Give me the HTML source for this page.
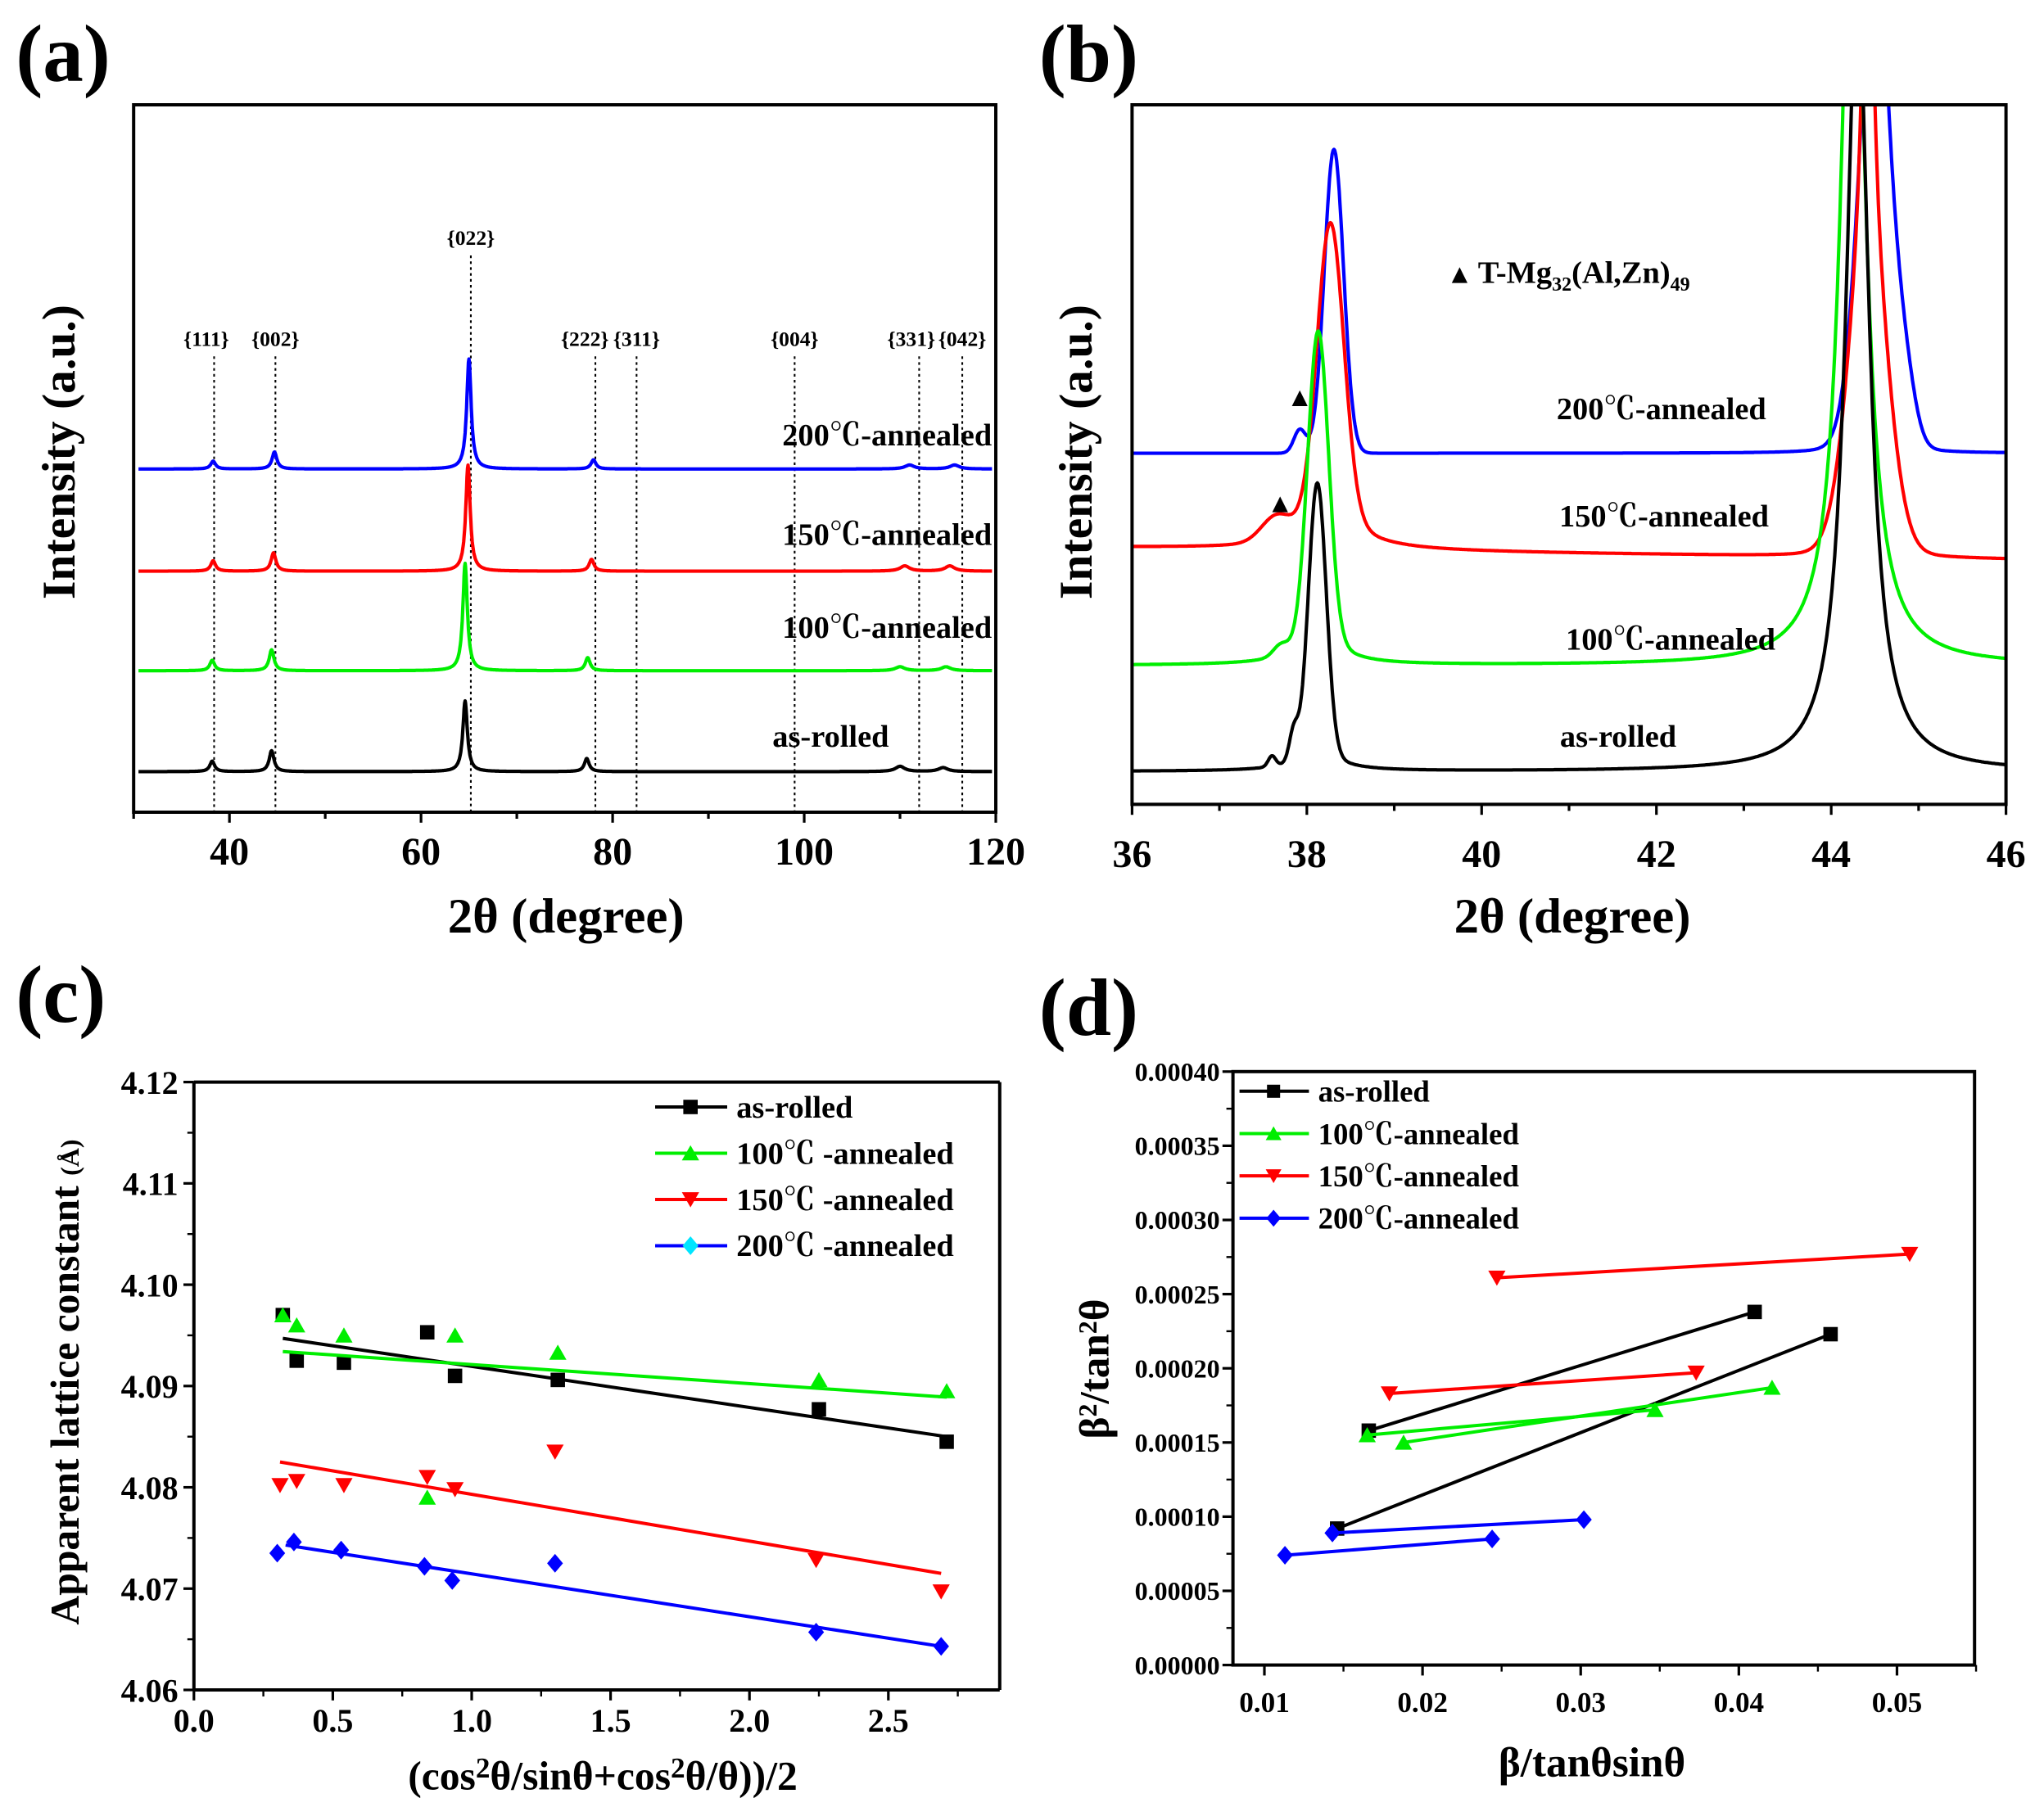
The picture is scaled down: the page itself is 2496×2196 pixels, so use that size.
<!DOCTYPE html>
<html><head><meta charset="utf-8">
<style>
html,body{margin:0;padding:0;background:#fff;}
svg{display:block;}
text{font-family:"Liberation Serif","Noto Serif CJK SC",serif;font-weight:bold;fill:#000;}
</style></head>
<body>
<svg id="fig" xmlns="http://www.w3.org/2000/svg" width="2496" height="2196" viewBox="0 0 1560 1372.5">
<rect x="0" y="0" width="1560" height="1372.5" fill="#fff"/>
<defs>
<clipPath id="clipA"><rect x="102" y="80" width="658" height="540"/></clipPath>
<clipPath id="clipB"><rect x="864" y="80" width="667" height="534"/></clipPath>
</defs>
<g id="gA"></g>
<g id="gB"></g>
<g id="gC"></g>
<g id="gD"></g>
</svg>
<script>
// ---------- Panel (a) data ----------
const aSeries = ['as-rolled','100℃-annealed','150℃-annealed','200℃-annealed'];
const aColors = ['#000','#00ee00','#ff0000','#0000ff'];
const aOffsets = [0, 77, 153, 231];
const aPeakPos = [[38.2,44.4,64.6,77.3,110,114.5],[38.2,44.4,64.6,77.4,110,114.8],[38.3,44.6,64.9,77.8,110.5,115.2],[38.3,44.7,65.0,78.0,111,115.7]];
const aPeakH = [[8,16,54,10,4,3],[8,16,82,10,3,3],[8,14,81,9,4,4],[6,13,84,7,3,3]];
const aHkl = ['{111}','{002}','{022}','{222}','{311}','{004}','{331}','{042}'];
const aHklPos = [38.4,44.8,65.2,78.2,82.5,99.0,112.0,116.5];
const aXTicks = [40,60,80,100,120];
// ---------- Panel (b) data ----------
const bSeries = ['as-rolled','100℃-annealed','150℃-annealed','200℃-annealed'];
const bBaseStart = [0, 81, 171, 243];
const bBaseEnd = [0, 81, 162, 243];
const bPeakPos = [[38.12,38.12,37.85,37.6,44.3],[38.13,38.13,37.7,44.25],[38.27,38.27,37.65,44.42,44.42],[38.31,37.92,44.5,44.5,44.85]];
const bPeakH = [[205,15,22,8,600],[230,25,8,650],[220,30,18,220,400],[232,18,300,500,35]];
const bPeakW = [[0.12,0.3,0.06,0.05,0.16],[0.14,0.3,0.1,0.16],[0.18,0.4,0.2,0.26,0.06],[0.13,0.08,0.22,0.05,0.14]];
const bPeakShape = [['G','L','G','G','L'],['G','L','G','L'],['G','L','G','G','L'],['G','G','G','L','G']];
const bXTicks = [36,38,40,42,44,46];
// ---------- Panel (c) data ----------
const cSeries = ['as-rolled','100℃ -annealed','150℃ -annealed','200℃ -annealed'];
const cX = [[0.32,0.37,0.54,0.84,0.94,1.31,2.25,2.71],[0.32,0.37,0.54,0.84,0.94,1.31,2.25,2.71],[0.31,0.37,0.54,0.84,0.94,1.30,2.24,2.69],[0.30,0.36,0.53,0.83,0.93,1.30,2.24,2.69]];
const cBlack = [4.097,4.0925,4.0923,4.0953,4.091,4.0906,4.0877,4.0845];
const cGreen = [4.097,4.096,4.095,4.079,4.095,4.0933,4.0906,4.0895];
const cRed = [4.0802,4.0806,4.0802,4.081,4.0798,4.0835,4.0728,4.0697];
const cBlue = [4.0735,4.0746,4.0738,4.0722,4.0708,4.0725,4.0657,4.0643];
const cFitX = [[0.32,2.71],[0.32,2.71],[0.31,2.69],[0.33,2.69]];
const cFitY = [[4.0947,4.0850],[4.0934,4.0889],[4.0825,4.0715],[4.0743,4.0643]];
const cYTicks = [4.06,4.07,4.08,4.09,4.10,4.11,4.12];
const cYLabels = ['4.06','4.07','4.08','4.09','4.10','4.11','4.12'];
const cXTicks = [0,0.5,1.0,1.5,2.0,2.5];
const cXLabels = ['0.0','0.5','1.0','1.5','2.0','2.5'];
// ---------- Panel (d) data ----------
const dSeries = ['as-rolled','100℃-annealed','150℃-annealed','200℃-annealed'];
const dX = [[[0.0166,0.0410],[0.0146,0.0458]],[[0.0165,0.0347],[0.0188,0.0421]],[[0.0247,0.0508],[0.0179,0.0373]],[[0.0143,0.0302],[0.0113,0.0244]]];
const dY = [[[0.000158,0.000238],[0.000092,0.000223]],[[0.000155,0.000172],[0.000150,0.000187]],[[0.000261,0.000277],[0.000183,0.000197]],[[0.000089,0.000098],[0.000074,0.000085]]];
const dYTicks = [0,0.00005,0.0001,0.00015,0.0002,0.00025,0.0003,0.00035,0.0004];
const dYLabels = ['0.00000','0.00005','0.00010','0.00015','0.00020','0.00025','0.00030','0.00035','0.00040'];
const dXTicks = [0.01,0.02,0.03,0.04,0.05];
const dXLabels = ['0.01','0.02','0.03','0.04','0.05'];

const NS='http://www.w3.org/2000/svg';
function mk(parent,tag,attrs,txt){const e=document.createElementNS(NS,tag);for(const k in attrs)e.setAttribute(k,attrs[k]);if(txt!==undefined)e.textContent=txt;parent.appendChild(e);return e;}
const colors=['#000','#00ee00','#ff0000','#0000ff'];

// ===== Panel A =====
(function(){
 const g=document.getElementById('gA');
 const L=102,R=760,T=80,B=620,base0=589;
 const xs=v=>L+(v-30)/90*(R-L);
 let t=mk(g,'text',{x:12,y:62,'font-size':62});t.textContent='(a)';
 
 aHkl.forEach((h,i)=>{
  const x=xs(aHklPos[i]);const top=(h==='{022}')?195:272;
  const l=mk(g,'line',{x1:x,x2:x,y1:top,y2:B,stroke:'#000','stroke-width':1.3,'stroke-dasharray':'2,2.5'});
  
  const tx=mk(g,'text',{x:x-(h==='{222}'?8:(h==='{111}'?6:(h==='{331}'?6:0))),y:top-8,'font-size':16,'text-anchor':'middle'},h);
  
 });
 const cg=mk(g,'g',{'clip-path':'url(#clipA)'});
 aSeries.forEach((s,si)=>{
  let d='';
  for(let v=30.5;v<=119.6;v+=0.05){
   let y=0;aPeakPos[si].forEach((p,k)=>{const w=(p>100?0.6:(p>60&&p<70?0.28:0.3));y+=aPeakH[si][k]/(1+((v-p)/w)**2);});
   d+=(d?'L':'M')+xs(v).toFixed(1)+','+(base0-aOffsets[si]-y).toFixed(1);
  }
  const p=mk(cg,'path',{d:d,fill:'none',stroke:aColors[si],'stroke-width':2.6,'stroke-linejoin':'round'});
  
 });
 const lab=[['as-rolled',634,570,'middle'],['100℃-annealed',757,487,'end'],['150℃-annealed',757,416,'end'],['200℃-annealed',757,340,'end']];
 lab.forEach(a=>{const e=mk(g,'text',{x:a[1],y:a[2],'font-size':24,'text-anchor':a[3]},a[0]);});
 const box=mk(g,'rect',{x:L,y:T,width:R-L,height:B-T,fill:'none',stroke:'#000','stroke-width':2.5});
 
 for(let v=30;v<=120;v+=10){const x=xs(v);mk(g,'line',{x1:x,x2:x,y1:B,y2:B+(v%20===0?8:5),stroke:'#000','stroke-width':2});}
 aXTicks.forEach(v=>{const e=mk(g,'text',{x:xs(v),y:660,'font-size':30,'text-anchor':'middle'},String(v));});
 let xt=mk(g,'text',{x:432,y:712,'font-size':38,'text-anchor':'middle'},'2θ (degree)');
 let yt=mk(g,'text',{x:0,y:0,'font-size':36,'text-anchor':'middle',transform:'translate(57,345) rotate(-90)'},'Intensity (a.u.)');
})();

// ===== Panel B =====
(function(){
 const g=document.getElementById('gB');
 const L=864,R=1531,T=80,B=614,base0=589;
 const xs=v=>L+(v-36)/10*(R-L);
 let t=mk(g,'text',{x:793,y:62,'font-size':62},'(b)');
 const cg=mk(g,'g',{'clip-path':'url(#clipB)'});
 const order=[3,2,1,0];
 order.forEach(si=>{
  let d='';
  for(let v=36;v<=46.001;v+=0.01){
   const f=(v-36)/10;const base=bBaseStart[si]*(1-f)+bBaseEnd[si]*f;
   let y=0;bPeakPos[si].forEach((p,k)=>{const u=(v-p)/bPeakW[si][k];
    y+= bPeakShape[si][k]==='G' ? bPeakH[si][k]*Math.exp(-0.693*u*u) : bPeakH[si][k]/(1+u*u);});
   d+=(d?'L':'M')+xs(v).toFixed(1)+','+Math.max(40,(base0-base-y)).toFixed(1);
  }
  const p=mk(cg,'path',{d:d,fill:'none',stroke:colors[si],'stroke-width':2.6,'stroke-linejoin':'round'});
  
 });
 const lab=[['as-rolled',1235,570],['100℃-annealed',1275,496],['150℃-annealed',1270,402],['200℃-annealed',1268,320]];
 lab.forEach(a=>{const e=mk(g,'text',{x:a[1],y:a[2],'font-size':24,'text-anchor':'middle'},a[0]);});
 [[992,304],[977,385]].forEach(p=>{const e=mk(g,'path',{d:`M${p[0]-6},${p[1]+6}L${p[0]+6},${p[1]+6}L${p[0]},${p[1]-6}Z`,fill:'#000'});});
 const lg=mk(g,'g',{});
 mk(lg,'path',{d:'M1108,216L1120,216L1114,204Z',fill:'#000'});
 const lt=mk(lg,'text',{x:1128,y:216,'font-size':24});
 lt.innerHTML='T-Mg<tspan font-size="15" dy="6">32</tspan><tspan dy="-6">(Al,Zn)</tspan><tspan font-size="15" dy="6">49</tspan>';
 const box=mk(g,'rect',{x:L,y:T,width:R-L,height:B-T,fill:'none',stroke:'#000','stroke-width':2.5});
 
 for(let v=36;v<=46;v+=1){const x=xs(v);mk(g,'line',{x1:x,x2:x,y1:B,y2:B+(v%2===0?8:5),stroke:'#000','stroke-width':2});}
 bXTicks.forEach(v=>{const e=mk(g,'text',{x:xs(v),y:662,'font-size':30,'text-anchor':'middle'},String(v));});
 let xt=mk(g,'text',{x:1200,y:712,'font-size':38,'text-anchor':'middle'},'2θ (degree)');
 let yt=mk(g,'text',{x:0,y:0,'font-size':36,'text-anchor':'middle',transform:'translate(833,345) rotate(-90)'},'Intensity (a.u.)');
})();

function marker(g,type,x,y,col,s){
 let e;
 if(type==='sq')e=mk(g,'rect',{x:x-s,y:y-s,width:2*s,height:2*s,fill:col});
 else if(type==='up')e=mk(g,'path',{d:`M${x-s*1.2},${y+s}L${x+s*1.2},${y+s}L${x},${y-s*1.1}Z`,fill:col});
 else if(type==='dn')e=mk(g,'path',{d:`M${x-s*1.2},${y-s}L${x+s*1.2},${y-s}L${x},${y+s*1.1}Z`,fill:col});
 else e=mk(g,'path',{d:`M${x},${y-s*1.3}L${x+s*1.1},${y}L${x},${y+s*1.3}L${x-s*1.1},${y}Z`,fill:col});
 
 
 return e;
}
const mtypes=['sq','up','dn','dia'];

// ===== Panel C =====
(function(){
 const g=document.getElementById('gC');
 const L=148,R=763,T=826,B=1290;
 const xs=v=>L+v/0.5*106;
 const ys=v=>B-(v-4.06)/0.06*(B-T);
 let t=mk(g,'text',{x:12,y:780,'font-size':62},'(c)');
 const ser=[cBlack,cGreen,cRed,cBlue];
 ser.forEach((arr,si)=>{
  const f=mk(g,'line',{x1:xs(cFitX[si][0]),y1:ys(cFitY[si][0]),x2:xs(cFitX[si][1]),y2:ys(cFitY[si][1]),stroke:colors[si],'stroke-width':2.5});
  
  arr.forEach((v,i)=>marker(g,mtypes[si],xs(cX[si][i]),ys(v),colors[si],5.5));
 });
 cSeries.forEach((s,i)=>{
  const y=845+i*35.3;
  const l=mk(g,'line',{x1:500,x2:555,y1:y,y2:y,stroke:colors[i],'stroke-width':2.5});
  marker(g,mtypes[i],527,y,i===3?'#00e5ff':colors[i],5.5);
  const e=mk(g,'text',{x:562,y:y+8,'font-size':24},s);
 });
 mk(g,'line',{x1:L,y1:T,x2:R,y2:T,stroke:'#000','stroke-width':2.5});
 mk(g,'line',{x1:R,y1:T,x2:R,y2:B,stroke:'#000','stroke-width':2.5});
 const ax=mk(g,'line',{x1:L,y1:T,x2:L,y2:B,stroke:'#000','stroke-width':2.5});
 const bx=mk(g,'line',{x1:L,y1:B,x2:R,y2:B,stroke:'#000','stroke-width':2.5});
 cYTicks.forEach((v,i)=>{const y=ys(v);mk(g,'line',{x1:L-8,x2:L,y1:y,y2:y,stroke:'#000','stroke-width':2});
  if(i<cYTicks.length-1)mk(g,'line',{x1:L-5,x2:L,y1:ys(v+0.005),y2:ys(v+0.005),stroke:'#000','stroke-width':1.5});
  const e=mk(g,'text',{x:L-12,y:y+9,'font-size':25,'text-anchor':'end'},cYLabels[i]);});
 cXTicks.forEach((v,i)=>{const x=xs(v);mk(g,'line',{x1:x,x2:x,y1:B,y2:B+8,stroke:'#000','stroke-width':2});
  mk(g,'line',{x1:xs(v+0.25),x2:xs(v+0.25),y1:B,y2:B+5,stroke:'#000','stroke-width':1.5});
  const e=mk(g,'text',{x:x,y:B+32,'font-size':25,'text-anchor':'middle'},cXLabels[i]);});
 const xt=mk(g,'text',{x:460,y:1366,'font-size':31,'text-anchor':'middle'});
 xt.innerHTML='(cos<tspan dy="-9" font-size="22">2</tspan><tspan dy="9">θ/sinθ+cos</tspan><tspan dy="-9" font-size="22">2</tspan><tspan dy="9">θ/θ))/2</tspan>';
 
 const yt=mk(g,'text',{x:0,y:0,'font-size':31,'text-anchor':'middle',transform:'translate(60,1055) rotate(-90)'});
 yt.innerHTML='Apparent lattice constant <tspan font-size="20">(Å)</tspan>';
 
})();

// ===== Panel D =====
(function(){
 const g=document.getElementById('gD');
 const L=941,R=1507,T=818,B=1271;
 const xs=v=>965+(v-0.01)/0.01*120.7;
 const ys=v=>B-v/0.0004*(B-T);
 let t=mk(g,'text',{x:793,y:790,'font-size':62},'(d)');
 dSeries.forEach((s,si)=>{
  dX[si].forEach((seg,k)=>{
   const l=mk(g,'line',{x1:xs(seg[0]),y1:ys(dY[si][k][0]),x2:xs(seg[1]),y2:ys(dY[si][k][1]),stroke:colors[si],'stroke-width':2.5});
   
   marker(g,mtypes[si],xs(seg[0]),ys(dY[si][k][0]),colors[si],5.5);
   marker(g,mtypes[si],xs(seg[1]),ys(dY[si][k][1]),colors[si],5.5);
  });
 });
 dSeries.forEach((s,i)=>{
  const y=833+i*32.3;
  const l=mk(g,'line',{x1:946,x2:999,y1:y,y2:y,stroke:colors[i],'stroke-width':2.5});
  marker(g,mtypes[i],972,y,colors[i],5);
  const e=mk(g,'text',{x:1006,y:y+8,'font-size':23},s);
 });
 const box=mk(g,'rect',{x:L,y:T,width:R-L,height:B-T,fill:'none',stroke:'#000','stroke-width':2.5});
 
 dYTicks.forEach((v,i)=>{const y=ys(v);mk(g,'line',{x1:L-8,x2:L,y1:y,y2:y,stroke:'#000','stroke-width':2});
  if(i<dYTicks.length-1)mk(g,'line',{x1:L-5,x2:L,y1:ys(v+0.000025),y2:ys(v+0.000025),stroke:'#000','stroke-width':1.5});
  const e=mk(g,'text',{x:L-10,y:y+7,'font-size':20,'text-anchor':'end'},dYLabels[i]);});
 dXTicks.forEach((v,i)=>{const x=xs(v);mk(g,'line',{x1:x,x2:x,y1:B,y2:B+8,stroke:'#000','stroke-width':2});
  mk(g,'line',{x1:xs(v+0.005),x2:xs(v+0.005),y1:B,y2:B+5,stroke:'#000','stroke-width':1.5});
  const e=mk(g,'text',{x:x,y:B+36,'font-size':22,'text-anchor':'middle'},dXLabels[i]);});
 const xt=mk(g,'text',{x:1215,y:1356,'font-size':32,'text-anchor':'middle'},'β/tanθsinθ');
 const yt=mk(g,'text',{x:0,y:0,'font-size':32,'text-anchor':'middle',transform:'translate(846,1045) rotate(-90)'});
 yt.innerHTML='β<tspan dy="-9" font-size="20">2</tspan><tspan dy="9">/tan</tspan><tspan dy="-9" font-size="20">2</tspan><tspan dy="9">θ</tspan>';
 
})();
</script>
</body></html>
